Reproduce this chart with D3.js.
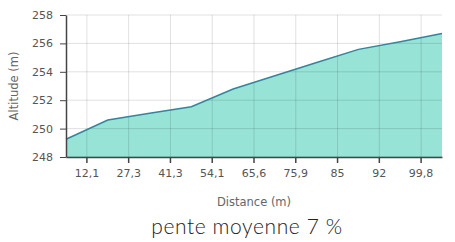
<!DOCTYPE html>
<html>
<head>
<meta charset="utf-8">
<script src="https://d3js.org/d3.v7.min.js"></script>
<style>
  body { margin: 0; background: #fff; }
  .tick text { font-family: "DejaVu Sans", Verdana, sans-serif; font-size: 11px; fill: #555; }
  .axis-title { font-family: "DejaVu Sans", Verdana, sans-serif; font-size: 11.5px; fill: #666; }
</style>
</head>
<body>
<div id="chart"></div>
<script>
// profile points, evenly spaced along the x axis
var distances = [0, 12.1, 27.3, 41.3, 54.1, 65.6, 75.9, 85, 92, 99.8];
var altitudes = [249.25, 250.6, 251.08, 251.54, 252.79, 253.72, 254.65, 255.58, 256.11, 256.7];
var xLabels = ["12,1", "27,3", "41,3", "54,1", "65,6", "75,9", "85", "92", "99,8"];
var yTicks = [248, 250, 252, 254, 256, 258];

var W = 455, H = 242;
var margin = {top: 15, right: 13, bottom: 85, left: 66},
    width = W - margin.left - margin.right,
    height = H - margin.top - margin.bottom;

var svg = d3.select("#chart").append("svg")
    .attr("width", W)
    .attr("height", H);

var g = svg.append("g")
    .attr("transform", "translate(" + margin.left + "," + margin.top + ")");

var x = d3.scalePoint()
    .domain(distances)
    .range([0, width]);

// labels sit between the points
var xBand = d3.scaleBand()
    .domain(xLabels)
    .range([0, width]);

var y = d3.scaleLinear()
    .domain([248, 258])
    .range([height, 0]);

var data = distances.map(function(d, i) { return {d: d, alt: altitudes[i]}; });

var area = d3.area()
    .x(function(d) { return x(d.d); })
    .y0(height)
    .y1(function(d) { return y(d.alt); });

var line = d3.line()
    .x(function(d) { return x(d.d); })
    .y(function(d) { return y(d.alt); });

g.append("path")
    .datum(data)
    .attr("d", area)
    .attr("fill", "#97e3d6");

// grid on top so it shows through the fill
g.append("g")
    .selectAll("line")
    .data(yTicks)
    .enter().append("line")
    .attr("x1", 0).attr("x2", width)
    .attr("y1", function(d) { return y(d); })
    .attr("y2", function(d) { return y(d); })
    .attr("stroke", "rgba(0,0,0,0.12)");

g.append("g")
    .selectAll("line")
    .data(xLabels)
    .enter().append("line")
    .attr("x1", function(d) { return xBand(d) + xBand.bandwidth() / 2; })
    .attr("x2", function(d) { return xBand(d) + xBand.bandwidth() / 2; })
    .attr("y1", 0).attr("y2", height)
    .attr("stroke", "rgba(0,0,0,0.12)");

g.append("path")
    .datum(data)
    .attr("d", line)
    .attr("fill", "none")
    .attr("stroke", "#34859b")
    .attr("stroke-width", 1.5);

var xAxis = g.append("g")
    .attr("transform", "translate(0," + height + ")")
    .call(d3.axisBottom(xBand).tickSize(6).tickSizeOuter(0).tickPadding(6));
xAxis.select(".domain").attr("stroke", "#444").attr("stroke-width", 1.5);
xAxis.selectAll(".tick line").attr("stroke", "#444").attr("stroke-width", 1.5);

var yAxis = g.append("g")
    .call(d3.axisLeft(y).tickValues(yTicks).tickSize(6).tickSizeOuter(0).tickPadding(7));
yAxis.select(".domain").attr("stroke", "#444").attr("stroke-width", 1.5);
yAxis.selectAll(".tick line").attr("stroke", "#444");

svg.append("text")
    .attr("class", "axis-title")
    .attr("transform", "translate(18," + (margin.top + height / 2) + ") rotate(-90)")
    .attr("text-anchor", "middle")
    .text("Altitude (m)");

svg.append("text")
    .attr("class", "axis-title")
    .attr("x", margin.left + width / 2)
    .attr("y", 206)
    .attr("text-anchor", "middle")
    .text("Distance (m)");

svg.append("text")
    .attr("x", 247)
    .attr("y", 234)
    .attr("text-anchor", "middle")
    .attr("font-family", "Lato, 'Open Sans', sans-serif")
    .attr("font-size", "21px")
    .attr("font-weight", 300)
    .attr("letter-spacing", "0.6px")
    .attr("fill", "#222")
    .text("pente moyenne 7 %");
</script>
</body>
</html>
